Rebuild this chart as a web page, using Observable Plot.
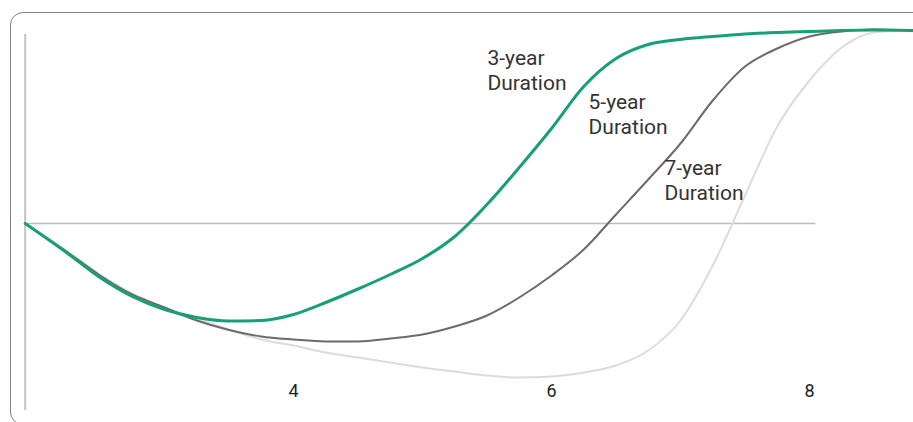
<!DOCTYPE html>
<html>
<head>
<meta charset="utf-8">
<script src="https://cdn.jsdelivr.net/npm/d3@7"></script>
<script src="https://cdn.jsdelivr.net/npm/@observablehq/plot@0.6"></script>
<style>
  html, body { margin: 0; padding: 0; background: #fff; overflow: hidden; }
  #wrap { position: relative; width: 913px; height: 422px; overflow: hidden; }
  #frame { position: absolute; left: 10px; top: 12px; width: 940px; height: 413px;
           border: 1.5px solid #808080; border-radius: 13px; box-sizing: border-box; }
  #chart { position: absolute; left: 0; top: 0; }
</style>
</head>
<body>
<div id="wrap"><div id="frame"></div><div id="chart"></div></div>
<script>
// Horizon (years) grid
const years = [1.92, 2.25, 2.5, 2.75, 3.0, 3.25, 3.5, 3.75, 4.0, 4.25, 4.5, 4.75, 5.0, 5.25, 5.5, 5.75,
               6.0, 6.25, 6.5, 6.75, 7.0, 7.25, 7.5, 7.75, 8.0, 8.25, 8.5, 8.8];
// Relative return for each duration (arbitrary units, 0 = break-even line)
const dur3 = [0, -30, -54, -73, -86, -94, -97.5, -97, -91, -79, -65.5, -51, -35, -13, 19, 56,
              95, 137, 165, 179, 184, 187, 189.5, 191, 192, 193, 193.5, 193];
const dur5 = [0, -29, -52, -71, -84, -97, -106.5, -113, -116, -118, -118, -115, -111, -103, -92, -74,
              -52, -26, 9, 44, 80, 123, 157, 175, 187, 192, 194, 193];
const dur7 = [0, -28, -51, -70, -84, -95, -106, -116, -122, -129, -134, -139, -144, -148, -152, -154,
              -153, -149, -142, -127, -97, -42, 28, 97, 143, 176, 191, 193];
const tickYears = [4, 6, 8];
const labels = ["3-year\nDuration", "5-year\nDuration", "7-year\nDuration"];
const labelX = [5.504, 6.287, 6.876];
const labelY = [177, 133, 67];

const rows = [];
[["3-year", dur3], ["5-year", dur5], ["7-year", dur7]].forEach(([name, vals]) =>
  years.forEach((x, i) => rows.push({series: name, x, y: vals[i]})));
const labelRows = labels.map((t, i) => ({t, x: labelX[i], y: labelY[i]}));

const colors = {"3-year": "#17a078", "5-year": "#6b6b6b", "7-year": "#dcdcdc"};
const widths = {"3-year": 3, "5-year": 2, "7-year": 2};

const x0 = years[0], x1 = years[years.length - 1];
const px = v => 293 + (v - 4) * 129;

const chart = Plot.plot({
  width: 913,
  height: 422,
  marginTop: 0, marginRight: 0, marginLeft: 0, marginBottom: 41,
  style: {fontFamily: "Roboto, sans-serif", background: "transparent", overflow: "visible"},
  x: {domain: [x0, x1], range: [px(x0), px(x1)]},
  y: {domain: [-200, 200], range: [423, 23], axis: null},
  marks: [
    Plot.ruleX([x0], {y1: 189, y2: -187, stroke: "#c4c4c4", strokeWidth: 2}),
    Plot.ruleY([0], {x1: x0, x2: 8.05, stroke: "#bdbdbd", strokeWidth: 1.6}),
    Plot.axisX({ticks: tickYears, tickSize: 0, tickPadding: 3, fontSize: 18, fontWeight: 400,
                fill: "#222", label: null, tickFormat: d => String(d)}),
    ...["7-year", "5-year", "3-year"].map(s =>
      Plot.line(rows.filter(r => r.series === s), {x: "x", y: "y", curve: "monotone-x",
        stroke: colors[s], strokeWidth: widths[s]})),
    Plot.text(labelRows, {x: "x", y: "y", text: "t", textAnchor: "start", lineAnchor: "top",
      fontSize: 21, lineHeight: 1.22, fill: "#333"})
  ]
});
document.getElementById("chart").appendChild(chart);
</script>
</body>
</html>
